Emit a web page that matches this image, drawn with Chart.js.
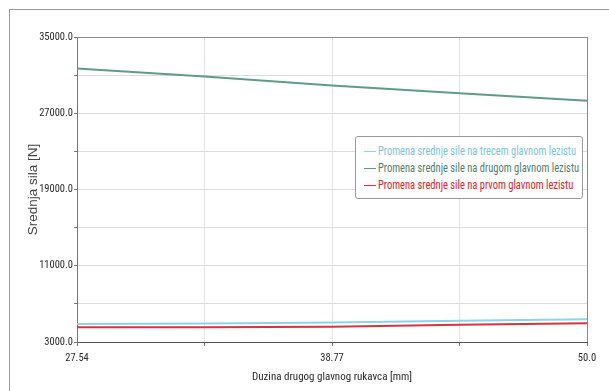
<!DOCTYPE html>
<html>
<head>
<meta charset="utf-8">
<script src="https://cdn.jsdelivr.net/npm/chart.js@4"></script>
<style>
  html, body { margin: 0; padding: 0; background: #fff; }
  #wrap { position: relative; width: 609px; height: 391px; overflow: hidden; }
  #frame { position: absolute; left: 9px; top: 9px; width: 620px; height: 400px;
           border-top: 1px solid #9a9a9a; border-left: 1px solid #9a9a9a; }
  #legend { position: absolute; left: 355px; top: 136px; width: 226px; height: 56px;
            border: 1px solid #9a9a9a; border-radius: 3px; background: #fff;
            font-family: "Roboto Condensed", "Liberation Sans", Arial, sans-serif;
            font-size: 12.5px; padding-top: 5px; box-sizing: content-box; }
  #legend div { height: 17px; line-height: 17px; white-space: nowrap; padding-left: 8px; }
  #legend span.dash { display: inline-block; width: 12px; height: 1.5px; vertical-align: middle; margin-right: 2px; }
  #legend span.txt { display: inline-block; transform: scaleX(0.84); transform-origin: left center; }
</style>
</head>
<body>
<div id="wrap">
  <div id="frame"></div>
  <canvas id="chart" width="609" height="391"></canvas>
  <div id="legend"></div>
</div>
<script>
// x positions (mm) and the average force values (N)
const xValues = [27.54, 33.155, 38.77, 44.385, 50.0];
const xTickLabels = ['27.54', '', '38.77', '', '50.0'];
const yTickValues = [3000, 7000, 11000, 15000, 19000, 23000, 27000, 31000, 35000];
const yLabelValues = [3000, 11000, 19000, 27000, 35000];

const treciValues = [4880, 4950, 5050, 5230, 5400];
const drugiValues = [31700, 30850, 29900, 29100, 28300];
const prviValues = [4550, 4560, 4610, 4820, 4970];

const seriesLabels = [
  'Promena srednje sile na trecem glavnom lezistu',
  'Promena srednje sile na drugom glavnom lezistu',
  'Promena srednje sile na prvom glavnom lezistu'
];
const seriesColors = ['#8fd3e8', '#5e9c88', '#d8343c'];
const legendTextColors = ['#7cc3da', '#4f7d6e', '#e0202a'];

const font = "'Roboto Condensed', 'Liberation Sans', Arial, sans-serif";

const toPoints = (vals) => vals.map((v, i) => ({ x: xValues[i], y: v }));

const datasets = [treciValues, drugiValues, prviValues].map((vals, i) => ({
  label: seriesLabels[i],
  data: toPoints(vals),
  borderColor: seriesColors[i],
  backgroundColor: seriesColors[i],
  borderWidth: 2,
  pointRadius: 0,
  tension: 0
}));

const chart = new Chart(document.getElementById('chart'), {
  type: 'line',
  data: { datasets: datasets },
  options: {
    responsive: false,
    animation: false,
    layout: { padding: { left: 0, top: 37, right: 22, bottom: 0 } },
    plugins: { legend: { display: false }, tooltip: { enabled: false } },
    scales: {
      x: {
        type: 'linear',
        min: xValues[0],
        max: xValues[xValues.length - 1],
        afterBuildTicks: (scale) => { scale.ticks = xValues.map(v => ({ value: v })); },
        afterFit: (scale) => { scale.height = 49; },
        ticks: {
          autoSkip: false, maxRotation: 0, padding: 6,
          color: '#2a2a2a', font: { family: font, size: 10.5 },
          callback: (v, i) => xTickLabels[i]
        },
        grid: {
          tickLength: 4,
          color: (ctx) => ctx.index === xValues.length - 1 ? '#8a8a8a' : '#e2e2e2',
          tickColor: '#777'
        },
        border: { color: '#555', width: 1 },
        title: {
          display: true, text: 'Duzina drugog glavnog rukavca [mm]',
          color: '#2a2a2a', font: { family: font, size: 11 }, padding: { top: 0, bottom: 7 }
        }
      },
      y: {
        min: yTickValues[0],
        max: yTickValues[yTickValues.length - 1],
        afterBuildTicks: (scale) => { scale.ticks = yTickValues.map(v => ({ value: v })); },
        afterFit: (scale) => { scale.width = 77; },
        ticks: {
          autoSkip: false, padding: 1,
          color: '#2a2a2a', font: { family: font, size: 10.5 },
          callback: (v) => yLabelValues.includes(v) ? v.toFixed(1) : ''
        },
        grid: {
          tickLength: 3,
          color: (ctx) => ctx.index === yTickValues.length - 1 ? '#8a8a8a' : '#dcdcdc',
          tickColor: '#777'
        },
        border: { color: '#777', width: 1 },
        title: {
          display: true, text: 'Srednja sila [N]',
          color: '#444', font: { family: "'Liberation Sans', Arial, sans-serif", size: 13.5 },
          padding: { top: 25, bottom: 0 }
        }
      }
    }
  }
});

// legend box inside the plot, built from the datasets
const legendEl = document.getElementById('legend');
chart.data.datasets.forEach((ds, i) => {
  const row = document.createElement('div');
  row.style.color = legendTextColors[i];
  const dash = document.createElement('span');
  dash.className = 'dash';
  dash.style.background = ds.borderColor;
  const txt = document.createElement('span');
  txt.className = 'txt';
  txt.textContent = ds.label;
  row.appendChild(dash);
  row.appendChild(txt);
  legendEl.appendChild(row);
});
</script>
</body>
</html>
